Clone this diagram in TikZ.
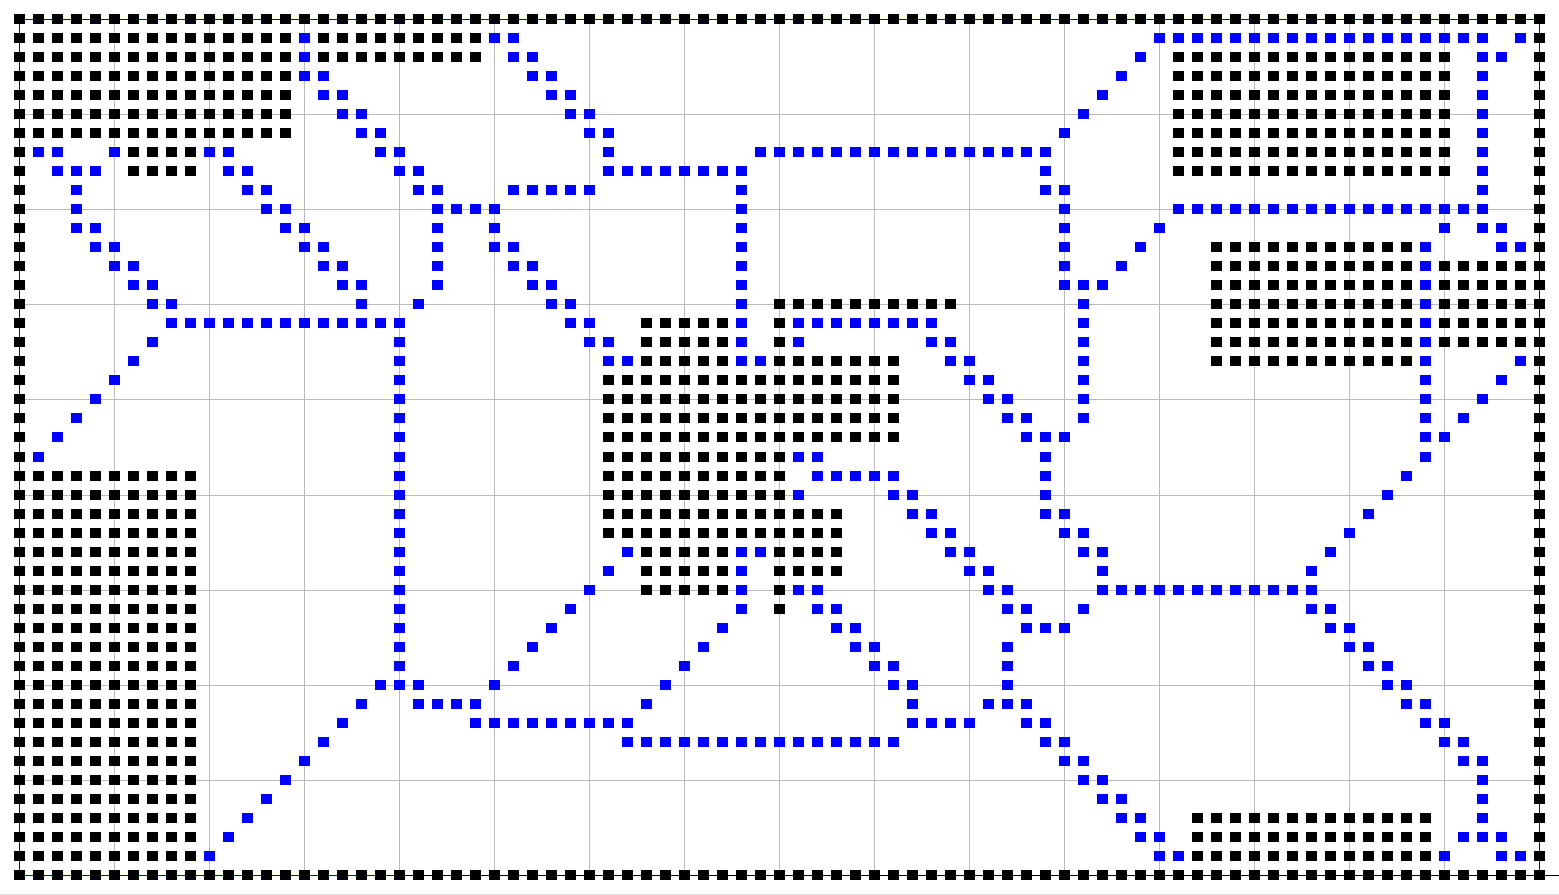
\documentclass[tikz,border=0pt]{standalone}
\definecolor{gridgray}{HTML}{BBBBBB}
\definecolor{edgegray}{HTML}{DDDDDD}
\definecolor{pureblue}{HTML}{0000FF}
\tikzset{
  gridline/.style={gridgray,line width=1},
  frameblue/.style={pureblue,line width=1},
  frameblack/.style={black,line width=1},
  blk/.style={fill=black},
  blu/.style={fill=pureblue}
}
\newcommand{\cell}[3]{%
  \pgfmathsetmacro{\cx}{19.5+19*#2}%
  \pgfmathsetmacro{\cy}{round(19.05+19.02*#1)}%
  \fill[#3] (\cx-5.5,\cy-5) rectangle (\cx+5.5,\cy+5);}
\begin{document}
\begin{tikzpicture}[x=0.75pt,y=-0.75pt]
\useasboundingbox (0,0) rectangle (1559,895);
\fill[white] (0,0) rectangle (1559,895);
\fill[edgegray] (0,894) rectangle (1559,895);
% grid
\foreach \k in {1,...,15}{\draw[gridline] ({19.5+95*\k},19.5) -- ({19.5+95*\k},875.5);}
\foreach \y in {114.5,209.5,304.5,399.5,495.5,590.5,685.5,780.5}{\draw[gridline] (19.5,\y) -- (1539.5,\y);}
% frame
\draw[frameblue] (19.5,875.5) -- (19.5,19.5) -- (1539.5,19.5) -- (1539.5,875.5);
\draw[frameblue] (19.5,875.5) -- (393,875.5);
\draw[frameblack] (393,875.5) -- (1559,875.5);
% black runs: row/first/last
\foreach \j/\a/\b in {
 0/0/80,
 1/0/14, 1/16/24, 1/80/80,
 2/0/14, 2/16/24, 2/61/75, 2/80/80,
 3/0/14, 3/61/75, 3/80/80,
 4/0/14, 4/61/75, 4/80/80,
 5/0/14, 5/61/75, 5/80/80,
 6/0/14, 6/61/75, 6/80/80,
 7/0/0, 7/6/9, 7/61/75, 7/80/80,
 8/0/0, 8/6/9, 8/61/75, 8/80/80,
 9/0/0, 9/80/80,
 10/0/0, 10/80/80,
 11/0/0, 11/80/80,
 12/0/0, 12/63/73, 12/80/80,
 13/0/0, 13/63/73, 13/75/80,
 14/0/0, 14/63/73, 14/75/80,
 15/0/0, 15/40/49, 15/63/73, 15/75/80,
 16/0/0, 16/33/37, 16/40/40, 16/63/73, 16/75/80,
 17/0/0, 17/33/37, 17/40/40, 17/63/73, 17/75/80,
 18/0/0, 18/33/37, 18/40/46, 18/63/73, 18/80/80,
 19/0/0, 19/31/46, 19/80/80,
 20/0/0, 20/31/46, 20/80/80,
 21/0/0, 21/31/46, 21/80/80,
 22/0/0, 22/31/46, 22/80/80,
 23/0/0, 23/31/40, 23/80/80,
 24/0/9, 24/31/40, 24/80/80,
 25/0/9, 25/31/40, 25/80/80,
 26/0/9, 26/31/43, 26/80/80,
 27/0/9, 27/31/43, 27/80/80,
 28/0/9, 28/33/37, 28/40/43, 28/80/80,
 29/0/9, 29/33/37, 29/40/43, 29/80/80,
 30/0/9, 30/33/37, 30/40/40, 30/80/80,
 31/0/9, 31/40/40, 31/80/80,
 32/0/9, 32/80/80,
 33/0/9, 33/80/80,
 34/0/9, 34/80/80,
 35/0/9, 35/80/80,
 36/0/9, 36/80/80,
 37/0/9, 37/80/80,
 38/0/9, 38/80/80,
 39/0/9, 39/80/80,
 40/0/9, 40/80/80,
 41/0/9, 41/80/80,
 42/0/9, 42/62/74, 42/80/80,
 43/0/9, 43/62/74, 43/80/80,
 44/0/9, 44/62/74, 44/80/80,
 45/0/80}{
  \foreach \i in {\a,...,\b}{\cell{\j}{\i}{blk}}
}
% blue runs: row/first/last
\foreach \j/\a/\b in {
 1/15/15, 1/25/26, 1/60/77, 1/79/79,
 2/15/15, 2/26/27, 2/59/59, 2/77/78,
 3/15/16, 3/27/28, 3/58/58, 3/77/77,
 4/16/17, 4/28/29, 4/57/57, 4/77/77,
 5/17/18, 5/29/30, 5/56/56, 5/77/77,
 6/18/19, 6/30/31, 6/55/55, 6/77/77,
 7/1/2, 7/5/5, 7/10/11, 7/19/20, 7/31/31, 7/39/54, 7/77/77,
 8/2/4, 8/11/12, 8/20/21, 8/31/38, 8/54/54, 8/77/77,
 9/3/3, 9/12/13, 9/21/22, 9/26/30, 9/38/38, 9/54/55, 9/77/77,
 10/3/3, 10/13/14, 10/22/25, 10/38/38, 10/55/55, 10/61/77,
 11/3/4, 11/14/15, 11/22/22, 11/25/25, 11/38/38, 11/55/55, 11/60/60, 11/75/75, 11/77/78,
 12/4/5, 12/15/16, 12/22/22, 12/25/26, 12/38/38, 12/55/55, 12/59/59, 12/74/74, 12/78/79,
 13/5/6, 13/16/17, 13/22/22, 13/26/27, 13/38/38, 13/55/55, 13/58/58, 13/74/74,
 14/6/7, 14/17/18, 14/22/22, 14/27/28, 14/38/38, 14/55/57, 14/74/74,
 15/7/8, 15/18/18, 15/21/21, 15/28/29, 15/38/38, 15/56/56, 15/74/74,
 16/8/20, 16/29/30, 16/38/38, 16/41/48, 16/56/56, 16/74/74,
 17/7/7, 17/20/20, 17/30/31, 17/38/38, 17/41/41, 17/48/49, 17/56/56, 17/74/74,
 18/6/6, 18/20/20, 18/31/32, 18/38/39, 18/49/50, 18/56/56, 18/74/74, 18/79/79,
 19/5/5, 19/20/20, 19/50/51, 19/56/56, 19/74/74, 19/78/78,
 20/4/4, 20/20/20, 20/51/52, 20/56/56, 20/74/74, 20/77/77,
 21/3/3, 21/20/20, 21/52/53, 21/56/56, 21/74/74, 21/76/76,
 22/2/2, 22/20/20, 22/53/55, 22/74/75,
 23/1/1, 23/20/20, 23/41/42, 23/54/54, 23/74/74,
 24/20/20, 24/42/46, 24/54/54, 24/73/73,
 25/20/20, 25/41/41, 25/46/47, 25/54/54, 25/72/72,
 26/20/20, 26/47/48, 26/54/55, 26/71/71,
 27/20/20, 27/48/49, 27/55/56, 27/70/70,
 28/20/20, 28/32/32, 28/38/39, 28/49/50, 28/56/57, 28/69/69,
 29/20/20, 29/31/31, 29/38/38, 29/50/51, 29/57/57, 29/68/68,
 30/20/20, 30/30/30, 30/38/38, 30/41/42, 30/51/52, 30/57/68,
 31/20/20, 31/29/29, 31/38/38, 31/42/43, 31/52/53, 31/56/56, 31/68/69,
 32/20/20, 32/28/28, 32/37/37, 32/43/44, 32/53/55, 32/69/70,
 33/20/20, 33/27/27, 33/36/36, 33/44/45, 33/52/52, 33/70/71,
 34/20/20, 34/26/26, 34/35/35, 34/45/46, 34/52/52, 34/71/72,
 35/19/21, 35/25/25, 35/34/34, 35/46/47, 35/52/52, 35/72/73,
 36/18/18, 36/21/24, 36/33/33, 36/47/47, 36/51/53, 36/73/74,
 37/17/17, 37/24/32, 37/47/50, 37/53/54, 37/74/75,
 38/16/16, 38/32/46, 38/54/55, 38/75/76,
 39/15/15, 39/55/56, 39/76/77,
 40/14/14, 40/56/57, 40/77/77,
 41/13/13, 41/57/58, 41/77/77,
 42/12/12, 42/58/59, 42/77/77,
 43/11/11, 43/59/60, 43/76/78,
 44/10/10, 44/60/61, 44/75/75, 44/78/79}{
  \foreach \i in {\a,...,\b}{\cell{\j}{\i}{blu}}
}
\end{tikzpicture}
\end{document}
